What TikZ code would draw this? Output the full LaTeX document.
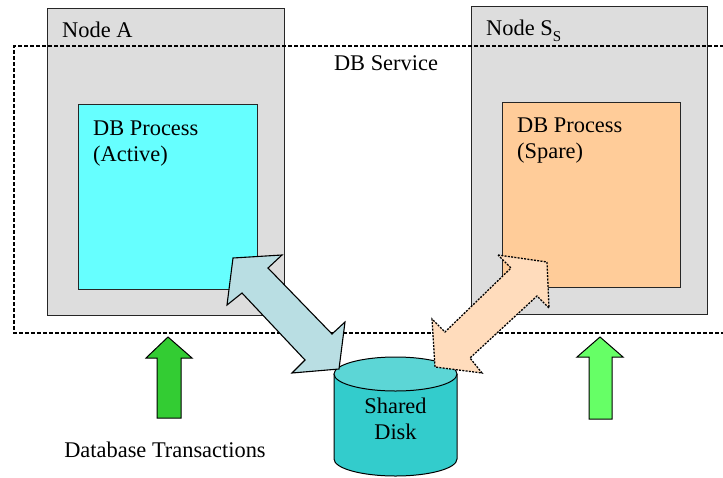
\documentclass[tikz,border=0pt]{standalone}
\usepackage{fontspec}
\setmainfont{Liberation Serif}
\definecolor{grayfill}{RGB}{221,221,221}
\definecolor{cyanfill}{RGB}{102,255,255}
\definecolor{orangefill}{RGB}{255,204,153}
\definecolor{bluearrow}{RGB}{185,222,227}
\definecolor{peacharrow}{RGB}{255,220,188}
\definecolor{disktop}{RGB}{92,214,214}
\definecolor{diskside}{RGB}{51,204,204}
\definecolor{greenA}{RGB}{51,204,51}
\definecolor{greenB}{RGB}{102,255,102}
\tikzset{
  hostbox/.style={draw=black!85, fill=grayfill, line width=0.9pt, inner sep=0pt, anchor=north west},
  procbox/.style={draw=black!85, line width=0.9pt, inner sep=0pt, anchor=north west},
  svcline/.style={draw=black, line width=1.3pt, dash pattern=on 4pt off 2pt},
  lbl/.style={inner sep=0pt, font=\fontsize{22.4}{26.5}\selectfont},
  blk/.style={draw=black, line width=1.1pt, line join=miter},
}
\begin{document}
\begin{tikzpicture}[x=1pt,y=-1pt]
\clip (0,0) rectangle (723,477);
\fill[white] (0,0) rectangle (723,477);
% host boxes
\node[hostbox, minimum width=237pt, minimum height=307pt] (nodeA) at (47,8) {};
\node[hostbox, minimum width=236pt, minimum height=308pt] (nodeS) at (471,6) {};
% service boundary
\draw[svcline] (730,46) -- (14,46) -- (14,333) -- (730,333);
% process boxes
\node[procbox, fill=cyanfill, minimum width=179pt, minimum height=185pt] (procA) at (78,104) {};
\node[procbox, fill=orangefill, minimum width=178pt, minimum height=185pt] (procS) at (502,102) {};
% shared disk
\fill[diskside] (334,374) rectangle (457,459);
\fill[diskside] (395.5,459) ellipse[x radius=61.5, y radius=17];
\draw[line width=1pt] (334,374) -- (334,459) arc[start angle=180, end angle=0, x radius=61.5, y radius=17] -- (457,374);
\draw[line width=1pt, fill=disktop] (395.5,374) ellipse[x radius=61.5, y radius=17];
\node[lbl, align=center] (disk) at (395.5,419) {Shared\\Disk};
% double arrows
\draw[blk, fill=bluearrow] (233,258) -- (282,255) -- (268,268) -- (332,334) -- (345,322)
  -- (339,369) -- (292,373) -- (305,360) -- (242,293) -- (227,305) -- cycle;
\draw[line width=1.3pt, fill=peacharrow, dash pattern=on 2pt off 1.3pt] (498,255) -- (547,262) -- (549,308) -- (537,296)
  -- (470,358) -- (482,373) -- (435,367) -- (432,319) -- (445,332) -- (511,268) -- cycle;
% transaction arrows
\draw[blk, line width=1pt, fill=greenA] (168,337) -- (192,358) -- (181,358) -- (181,418) -- (157,418) -- (157,358) -- (146,358) -- cycle;
\draw[blk, line width=1pt, fill=greenB] (600,337) -- (623,357) -- (612,357) -- (612,419) -- (589,419) -- (589,357) -- (577,357) -- cycle;
% labels
\node[lbl, anchor=base west] (tA) at (62,37) {Node A};
\node[lbl, anchor=base west] (tS) at (486,35) {Node S\raisebox{-0.28em}{\fontsize{15}{15}\selectfont S}};
\node[lbl, anchor=base] (tsvc) at (386,70) {DB Service};
\node[lbl, anchor=north west, align=left] (tpa) at (93,120.3) {DB Process\\(Active)};
\node[lbl, anchor=north west, align=left] (tps) at (517,117.3) {DB Process\\(Spare)};
\node[lbl, anchor=base] (ttx) at (165,457) {Database Transactions};
\end{tikzpicture}
\end{document}
